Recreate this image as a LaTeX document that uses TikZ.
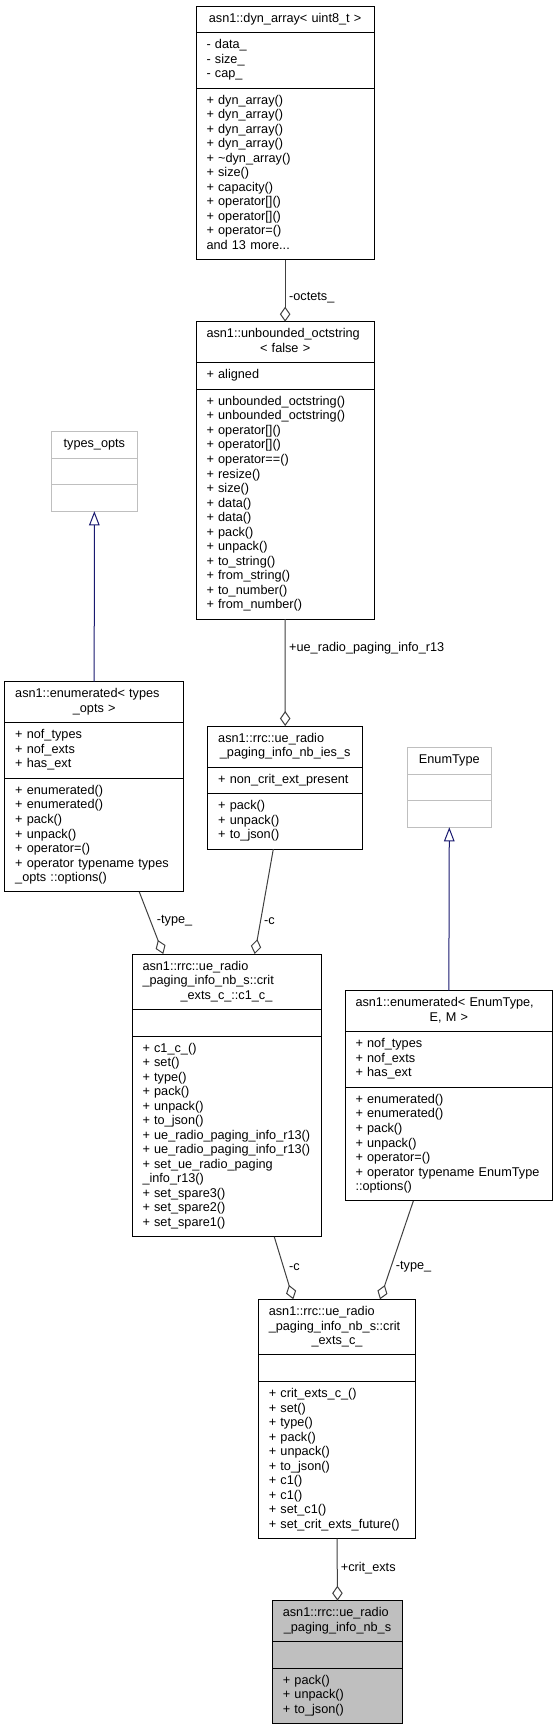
\documentclass[tikz,border=0pt]{standalone}
\usepackage{fontspec}
\setmainfont{Liberation Sans}
\usetikzlibrary{shapes.multipart,arrows.meta}

\definecolor{edgegray}{HTML}{404040}
\definecolor{inhblue}{HTML}{191970}
\definecolor{undoc}{HTML}{BFBFBF}

\tikzset{
  cls/.style={rectangle split, rectangle split parts=3, draw=black, line width=1pt,
    outer sep=0pt, inner xsep=10.5pt, inner ysep=5.5pt, align=left, anchor=north west,
    font=\fontsize{12.7}{14.52}\selectfont},
  undoccls/.style={cls, draw=undoc},
  has/.style={draw=edgegray, line width=1pt, -{Diamond[open,length=15pt,width=10.5pt]}},
  inh/.style={draw=inhblue, line width=1pt, -{Triangle[open,length=14pt,width=10.5pt]}},
  lbl/.style={anchor=west, inner sep=0pt, font=\fontsize{12.7}{14.52}\selectfont},
}
\newcommand{\ctr}[1]{\makebox[\hsize]{#1}}

\begin{document}
\begin{tikzpicture}[x=1pt,y=-1pt]
    \useasboundingbox (0,0) rectangle (559,1727);
    \fill[white] (0,0) rectangle (559,1727);
    % Classes
    \node[cls, text width=157.3pt] (dyn) at (196,6)
      {\strut\ctr{asn1::dyn\_array< uint8\_t >}
       \nodepart{second}\strut- data\_\\- size\_\\- cap\_\strut
       \nodepart{third}\strut+ dyn\_array()\\+ dyn\_array()\\+ dyn\_array()\\+ dyn\_array()\\+ \textasciitilde dyn\_array()\\+ size()\\+ capacity()\\+ operator[]()\\+ operator[]()\\+ operator=()\\and 13 more...\strut};
    \node[cls, text width=157.3pt] (oct) at (196,321.7)
      {\strut asn1::unbounded\_octstring\\\ctr{< false >}\strut
       \nodepart{second}\strut+ aligned\strut
       \nodepart{third}\strut+ unbounded\_octstring()\\+ unbounded\_octstring()\\+ operator[]()\\+ operator[]()\\+ operator==()\\+ resize()\\+ size()\\+ data()\\+ data()\\+ pack()\\+ unpack()\\+ to\_string()\\+ from\_string()\\+ to\_number()\\+ from\_number()\strut};
    \node[undoccls, text width=65.7pt] (topts) at (51,431.7)
      {\strut\ctr{types\_opts}\nodepart{second}\strut\nodepart{third}\strut};
    \node[cls, text width=158pt] (enumT) at (4.7,681.7)
      {\strut asn1::enumerated< types\\\ctr{\_opts >}\strut
       \nodepart{second}\strut+ nof\_types\\+ nof\_exts\\+ has\_ext\strut
       \nodepart{third}\strut+ enumerated()\\+ enumerated()\\+ pack()\\+ unpack()\\+ operator=()\\+~operator~typename~types\\\_opts ::options()\strut};
    \node[cls, text width=134pt] (ies) at (207.7,726)
      {\strut asn1::rrc::ue\_radio\\\ctr{\_paging\_info\_nb\_ies\_s}\strut
       \nodepart{second}\strut+ non\_crit\_ext\_present\strut
       \nodepart{third}\strut+ pack()\\+ unpack()\\+ to\_json()\strut};
    \node[undoccls, text width=63pt] (etype) at (407.3,747.7)
      {\strut\ctr{EnumType}\nodepart{second}\strut\nodepart{third}\strut};
    \node[cls, text width=168pt] (c1) at (132,954)
      {\strut asn1::rrc::ue\_radio\\\_paging\_info\_nb\_s::crit\\\ctr{\_exts\_c\_::c1\_c\_}\strut
       \nodepart{second}\strut
       \nodepart{third}\strut+ c1\_c\_()\\+ set()\\+ type()\\+ pack()\\+ unpack()\\+ to\_json()\\+~ue\_radio\_paging\_info\_r13()\\+~ue\_radio\_paging\_info\_r13()\\+ set\_ue\_radio\_paging\\\_info\_r13()\\+ set\_spare3()\\+ set\_spare2()\\+ set\_spare1()\strut};
    \node[cls, text width=186.7pt] (enumE) at (345,990.7)
      {\strut asn1::enumerated< EnumType,\\\ctr{E, M >}\strut
       \nodepart{second}\strut+ nof\_types\\+ nof\_exts\\+ has\_ext\strut
       \nodepart{third}\strut+ enumerated()\\+ enumerated()\\+ pack()\\+ unpack()\\+ operator=()\\+~operator~typename~EnumType\\::options()\strut};
    \node[cls, text width=136.4pt] (crit) at (258.3,1299.3)
      {\strut asn1::rrc::ue\_radio\\\_paging\_info\_nb\_s::crit\\\ctr{\_exts\_c\_}\strut
       \nodepart{second}\strut
       \nodepart{third}\strut+ crit\_exts\_c\_()\\+ set()\\+ type()\\+ pack()\\+ unpack()\\+ to\_json()\\+ c1()\\+ c1()\\+ set\_c1()\\+~set\_crit\_exts\_future()\strut};
    \node[cls, fill=undoc, text width=109.4pt] (main) at (272.3,1600.7)
      {\strut asn1::rrc::ue\_radio\\\ctr{\_paging\_info\_nb\_s}\strut
       \nodepart{second}\strut
       \nodepart{third}\strut+ pack()\\+ unpack()\\+ to\_json()\strut};
    % Inheritance
    \draw[inh] (enumT.north) -- (topts.south);
    \draw[inh] (enumE.north) -- (etype.south);
    % Members
    \draw[has] (dyn.south) -- (oct.north);
    \draw[has] (oct.south) -- (ies.north);
    \draw[has] ([xshift=45.1pt]enumT.south) -- ([xshift=-63.2pt]c1.north);
    \draw[has] ([xshift=-11.9pt]ies.south) -- ([xshift=28.2pt]c1.north);
    \draw[has] ([xshift=47.8pt]c1.south) -- ([xshift=-43.7pt]crit.north);
    \draw[has] ([xshift=-35.5pt]enumE.south) -- ([xshift=43pt]crit.north);
    \draw[has] (crit.south) -- (main.north);
    % Labels
    \node[lbl] (loctets) at (289,297.7) {-octets\_};
    \node[lbl] (lrthirteen) at (289,648) {+ue\_radio\_paging\_info\_r13};
    \node[lbl] (ltypeA) at (156.7,921) {-type\_};
    \node[lbl] (lcA) at (264,921) {-c};
    \node[lbl] (lcB) at (289,1267) {-c};
    \node[lbl] (ltypeB) at (395.7,1267) {-type\_};
    \node[lbl] (lcrit) at (340.7,1567.7) {+crit\_exts};
\end{tikzpicture}
\end{document}
